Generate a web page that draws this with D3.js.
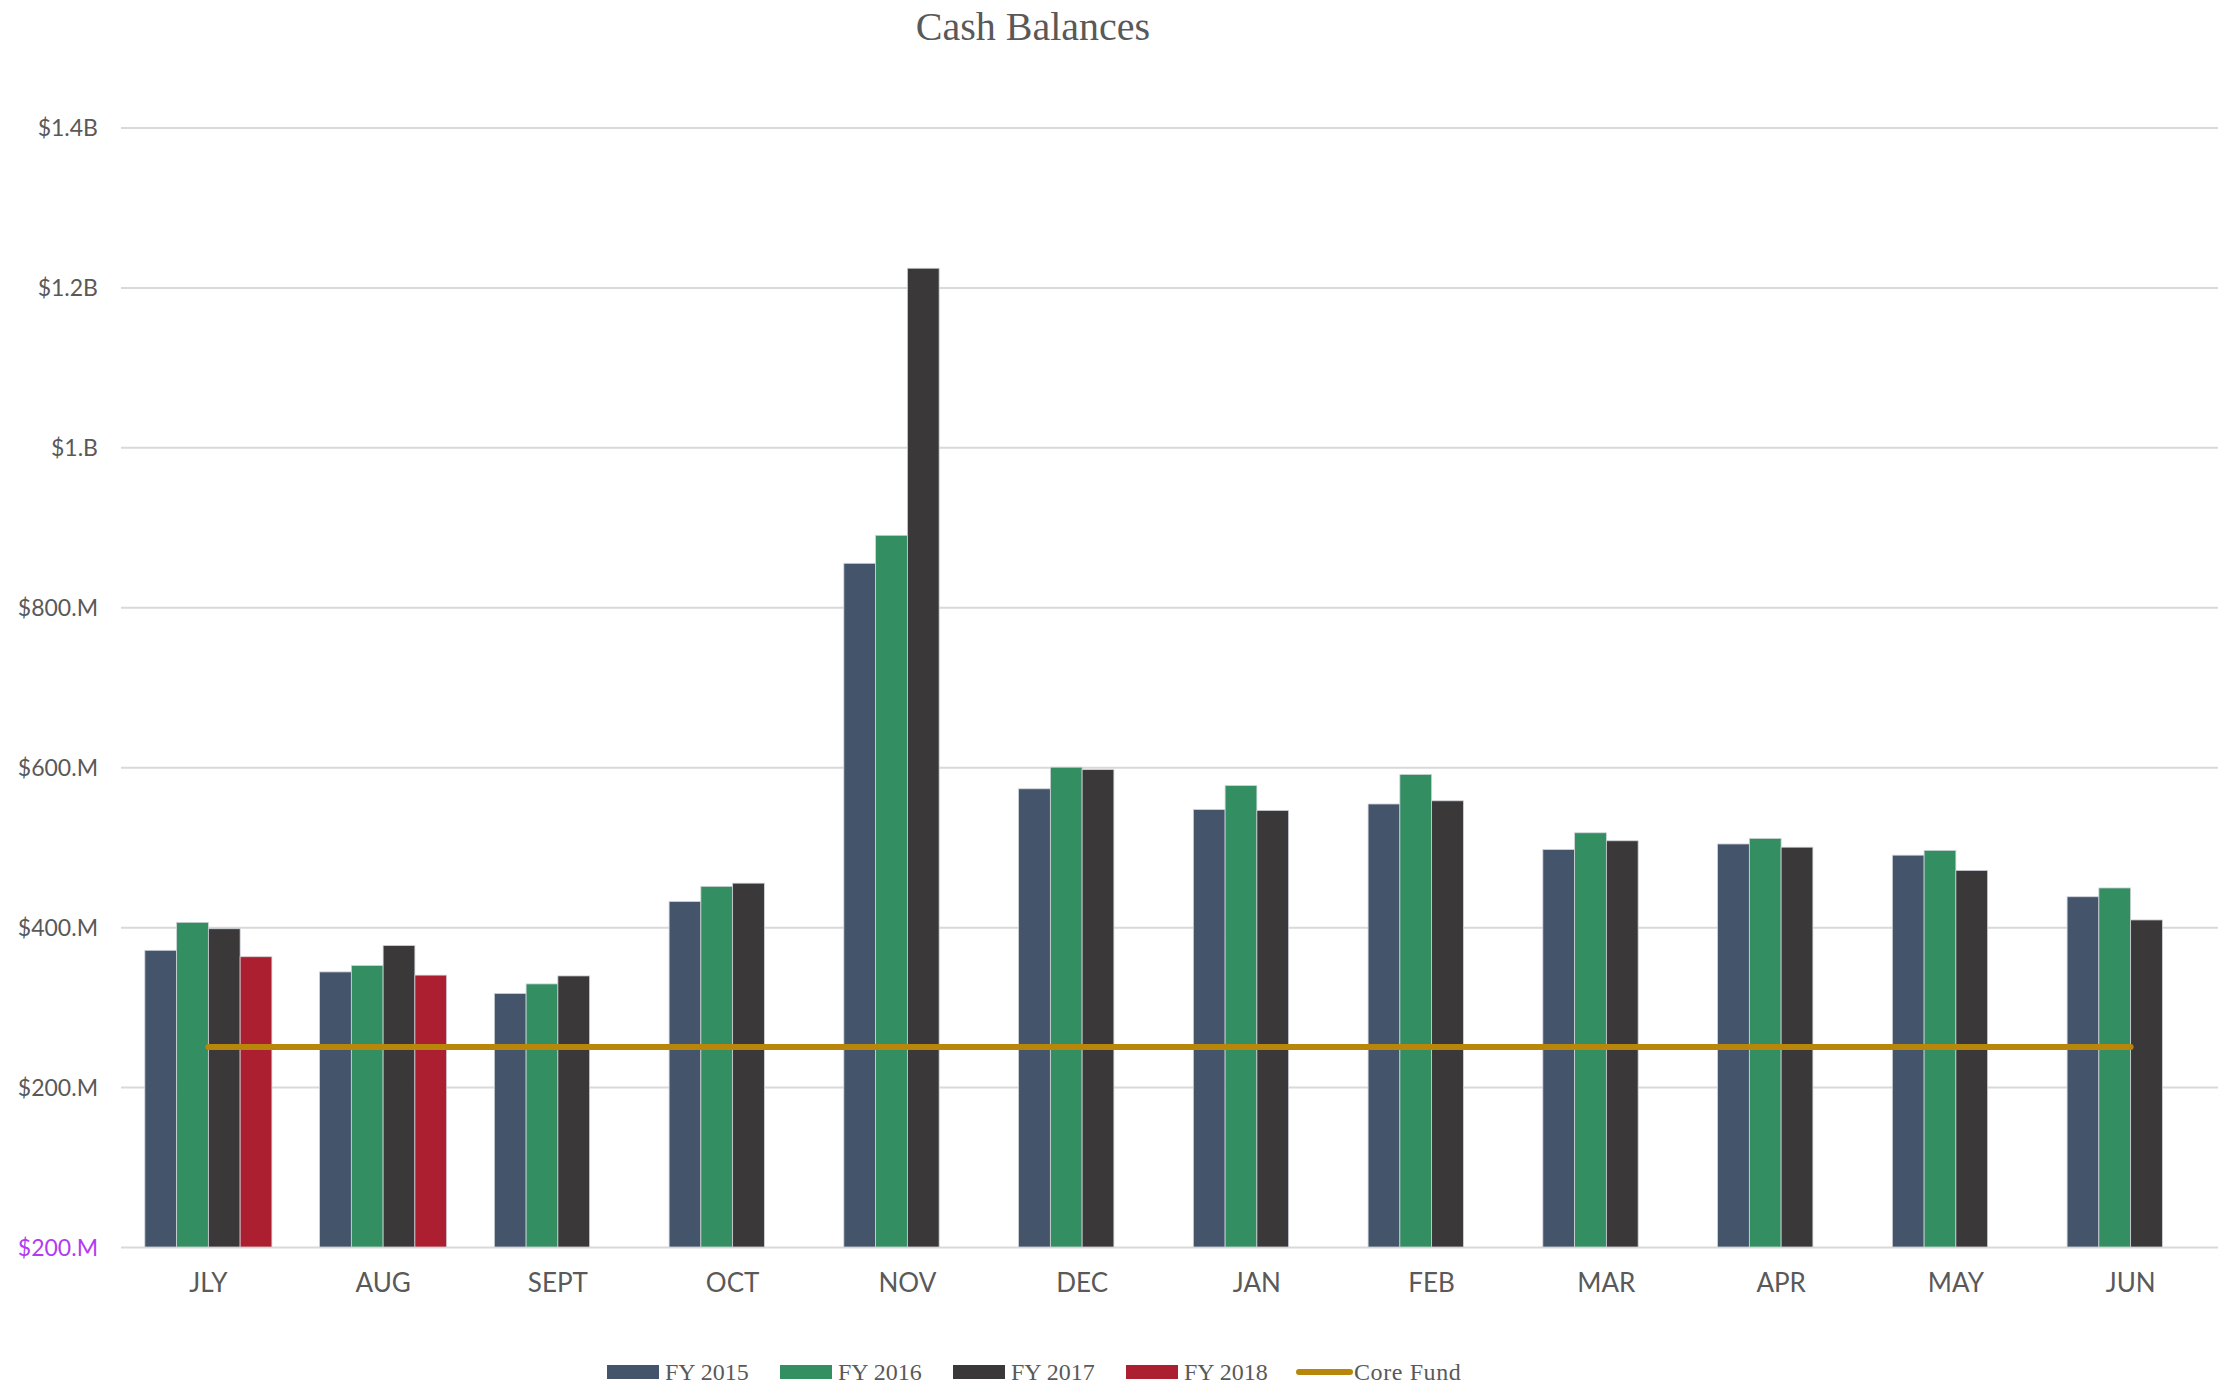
<!DOCTYPE html>
<html>
<head>
<meta charset="utf-8">
<script src="https://cdn.jsdelivr.net/npm/d3@7"></script>
<style>
  html, body { margin: 0; padding: 0; background: #fff; }
  svg { display: block; }
</style>
</head>
<body>
<script>
const months = ["JLY","AUG","SEPT","OCT","NOV","DEC","JAN","FEB","MAR","APR","MAY","JUN"];
const seriesNames = ["FY 2015","FY 2016","FY 2017","FY 2018"];
const fy2015 = [371, 344, 317, 432, 855, 573, 547, 554, 497, 504, 490, 438];
const fy2016 = [406, 352, 329, 451, 890, 600, 577, 591, 518, 511, 496, 449];
const fy2017 = [398, 377, 339, 455, 1224, 597, 546, 558, 508, 500, 471, 409];
const fy2018 = [363, 340, null, null, null, null, null, null, null, null, null, null];
const coreFund = [250, 250, 250, 250, 250, 250, 250, 250, 250, 250, 250, 250];
const coreName = "Core Fund";
const yTicks = [0, 200, 400, 600, 800, 1000, 1200, 1400];
const yTickLabels = ["$200.M","$200.M","$400.M","$600.M","$800.M","$1.B","$1.2B","$1.4B"];
const chartTitle = "Cash Balances";

(function () {
const colors = ["#44546A", "#338E62", "#3A3839", "#AB1F30"];
const coreColor = "#B8860B";
const textColor = "#595959";

const W = 2235, H = 1385;
const pLeft = 121, pRight = 2218, pTop = 127.5, pBottom = 1247;

const svg = d3.select("body").append("svg").attr("width", W).attr("height", H);

const x0 = d3.scaleBand().domain(months).range([pLeft, pRight]).paddingInner(0.273).paddingOuter(0.1365);
const x1 = d3.scaleBand().domain(seriesNames).range([0, x0.bandwidth()]).padding(0);
const y = d3.scaleLinear().domain([0, 1400]).range([pBottom, pTop]);

// gridlines + y labels
const yAxis = d3.axisLeft(y).tickValues(yTicks).tickSize(-(pRight - pLeft)).tickFormat((d, i) => yTickLabels[i]).tickPadding(23);
const gy = svg.append("g").attr("transform", `translate(${pLeft},0)`).call(yAxis);
gy.select(".domain").remove();
gy.selectAll(".tick line").attr("stroke", "#D9D9D9").attr("stroke-width", 2);
gy.selectAll(".tick text")
  .attr("fill", (d, i) => i === 0 ? "#B23BF2" : textColor)
  .style("font-family", "Lato, 'Open Sans', sans-serif")
  .style("font-size", "23px")
  .attr("dy", "0.35em");

// bars
const allSeries = [fy2015, fy2016, fy2017, fy2018];
const groups = svg.append("g").selectAll("g").data(months).join("g")
  .attr("transform", d => `translate(${x0(d)},0)`);
groups.selectAll("rect")
  .data((m, i) => seriesNames.map((s, j) => ({ s, j, v: allSeries[j][i] })).filter(d => d.v != null))
  .join("rect")
  .attr("x", d => x1(d.s))
  .attr("width", x1.bandwidth())
  .attr("y", d => y(d.v))
  .attr("height", d => y(0) - y(d.v))
  .attr("fill", d => colors[d.j])
  .attr("stroke", "#cfd3d8")
  .attr("stroke-width", 0.8);

// core fund line
const line = d3.line().x((d, i) => x0(months[i]) + x0.bandwidth() / 2).y(d => y(d));
svg.append("path").datum(coreFund).attr("d", line)
  .attr("fill", "none").attr("stroke", coreColor).attr("stroke-width", 6).attr("stroke-linecap", "round");

// x axis
const xAxis = d3.axisBottom(x0).tickSize(0).tickPadding(27);
const gx = svg.append("g").attr("transform", `translate(0,${pBottom})`).call(xAxis);
gx.select(".domain").remove();
gx.selectAll(".tick text")
  .attr("fill", textColor)
  .style("font-family", "Lato, 'Open Sans', sans-serif")
  .style("font-size", "26px");

// title
svg.append("text").attr("x", 1033).attr("y", 40).attr("text-anchor", "middle")
  .attr("fill", textColor)
  .style("font-family", "'Liberation Serif', 'DejaVu Serif', serif")
  .style("font-size", "40px")
  .text(chartTitle);

// legend
const legendItems = seriesNames.map((s, i) => ({ name: s, color: colors[i], type: "rect" }))
  .concat([{ name: coreName, color: coreColor, type: "line" }]);
const lg = svg.append("g");
const legendStart = 607, legendStep = 173;
const ly = 1372;
legendItems.forEach((it, i) => {
  const lx = legendStart + i * legendStep - (it.type === "line" ? 3 : 0);
  if (it.type === "rect") {
    lg.append("rect").attr("x", lx).attr("y", ly - 7).attr("width", 52).attr("height", 14).attr("fill", it.color);
  } else {
    lg.append("line").attr("x1", lx + 3).attr("x2", lx + 54).attr("y1", ly).attr("y2", ly)
      .attr("stroke", it.color).attr("stroke-width", 6).attr("stroke-linecap", "round");
  }
  lg.append("text").attr("x", lx + 58).attr("y", ly + 8)
    .attr("fill", textColor)
    .style("font-family", "'Liberation Serif', 'DejaVu Serif', serif")
    .style("font-size", "24px")
    .style("letter-spacing", it.type === "line" ? "0.6px" : "0px")
    .text(it.name);
});
})();
</script>
</body>
</html>
